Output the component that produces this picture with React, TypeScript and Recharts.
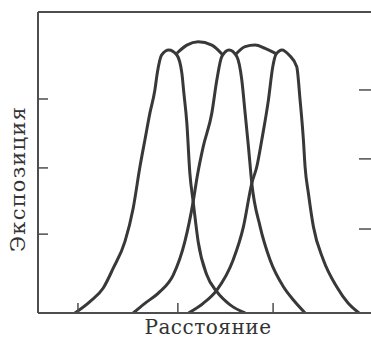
import { LineChart, Line, XAxis, YAxis } from 'recharts';

// distance (0..100) vs exposure (0..100)
const curveA = [
  { x: 11.1, y: 0 }, { x: 15.6, y: 3.8 }, { x: 19.6, y: 8.3 }, { x: 22.6, y: 14.9 },
  { x: 26.1, y: 23.7 }, { x: 28.6, y: 34.9 }, { x: 30.6, y: 48.5 }, { x: 32.1, y: 57.5 },
  { x: 33.6, y: 66.4 }, { x: 35.1, y: 74.1 }, { x: 35.8, y: 79.6 }, { x: 37.1, y: 85.7 },
  { x: 39.3, y: 87.4 }, { x: 41.7, y: 85.7 }, { x: 43.2, y: 79.7 }, { x: 43.8, y: 73.1 },
  { x: 44.7, y: 63.1 }, { x: 45.6, y: 46.5 }, { x: 46.6, y: 37.0 }, { x: 48.1, y: 23.7 },
  { x: 50.7, y: 12.6 }, { x: 53.7, y: 7.1 }, { x: 57.7, y: 2.7 }, { x: 62.2, y: 0 },
];

const curveB = [
  { x: 28.6, y: 0 }, { x: 32.1, y: 3.2 }, { x: 36.6, y: 7.1 }, { x: 40.6, y: 12.6 },
  { x: 44.1, y: 23.7 }, { x: 46.6, y: 37.0 }, { x: 47.8, y: 45.3 }, { x: 49.6, y: 55.2 },
  { x: 52.2, y: 66.4 }, { x: 53.7, y: 77.4 }, { x: 55.2, y: 85.2 }, { x: 57.4, y: 87.4 },
  { x: 59.7, y: 85.2 }, { x: 61.2, y: 77.4 }, { x: 62.2, y: 66.4 }, { x: 63.2, y: 55.2 },
  { x: 64.2, y: 43.1 }, { x: 66.7, y: 28.7 }, { x: 69.7, y: 17.6 }, { x: 73.7, y: 8.7 },
  { x: 76.7, y: 4.3 }, { x: 80.2, y: 0 },
];

const curveC = [
  { x: 45.2, y: 0 }, { x: 49.6, y: 3.2 }, { x: 53.7, y: 7.6 }, { x: 58.6, y: 17.6 },
  { x: 61.7, y: 28.7 }, { x: 64.2, y: 43.1 }, { x: 65.7, y: 48.6 }, { x: 67.2, y: 57.5 },
  { x: 69.2, y: 70.8 }, { x: 70.5, y: 81.8 }, { x: 71.5, y: 86.0 }, { x: 73.3, y: 87.4 },
  { x: 75.4, y: 85.7 }, { x: 77.7, y: 81.8 }, { x: 78.7, y: 70.8 }, { x: 79.7, y: 57.5 },
  { x: 80.2, y: 48.6 }, { x: 81.2, y: 39.8 }, { x: 82.7, y: 28.7 }, { x: 85.7, y: 17.6 },
  { x: 89.7, y: 8.7 }, { x: 93.1, y: 3.3 }, { x: 96.4, y: 0 },
];

// envelope arcs joining neighbouring peaks
const arc1 = [
  { x: 41.7, y: 86.3 }, { x: 44.7, y: 89.0 }, { x: 48.1, y: 90.1 }, { x: 52.2, y: 89.0 }, { x: 55.5, y: 85.7 },
];
const arc2 = [
  { x: 59.2, y: 85.7 }, { x: 62.2, y: 88.5 }, { x: 65.2, y: 89.0 }, { x: 68.2, y: 87.9 }, { x: 71.7, y: 86.0 },
];

const xTicks = [12.0, 42.0, 70.6];
const leftTicks = [26.2, 48.2, 71.1];
const rightTicks = [27.9, 51.2, 74.1];

const xLabel = 'Расстояние';
const yLabel = 'Экспозиция';

// the last series is plotted against the right axis (same 0..100 domain)
const series = [curveA, curveB, curveC, arc1, arc2];

const axisStroke = { stroke: '#4d4d4d', strokeWidth: 2 };
const tickStroke = { stroke: '#4d4d4d', strokeWidth: 1.5 };
const font = '"DejaVu Serif", "Liberation Serif", serif';
const noText = () => '';

export default function App() {
  return (
    <div style={{ position: 'absolute', left: 0, top: 0, width: 371, height: 339, background: '#fff', overflow: 'hidden' }}>
      <LineChart width={371} height={339} margin={{ top: 12, right: 0, bottom: 26, left: 38 }}>
        <XAxis
          type="number"
          dataKey="x"
          domain={[0, 100]}
          ticks={xTicks}
          interval={0}
          mirror
          tickFormatter={noText}
          tickSize={10}
          axisLine={axisStroke}
          tickLine={tickStroke}
          allowDataOverflow
        />
        <XAxis
          xAxisId="top"
          orientation="top"
          type="number"
          dataKey="x"
          domain={[0, 100]}
          mirror
          tick={false}
          tickLine={false}
          axisLine={axisStroke}
        />
        <YAxis
          type="number"
          domain={[0, 100]}
          ticks={leftTicks}
          interval={0}
          mirror
          tickFormatter={noText}
          tickSize={10}
          axisLine={axisStroke}
          tickLine={tickStroke}
          allowDataOverflow
        />
        <YAxis
          yAxisId="right"
          orientation="right"
          type="number"
          domain={[0, 100]}
          ticks={rightTicks}
          interval={0}
          mirror
          tickFormatter={noText}
          tickSize={12}
          axisLine={false}
          tickLine={tickStroke}
          allowDataOverflow
        />
        {series.map((d, i) => (
          <Line
            key={i}
            data={d}
            dataKey="y"
            yAxisId={i === series.length - 1 ? 'right' : 0}
            type="monotone"
            stroke="#383838"
            strokeWidth={3}
            dot={false}
            activeDot={false}
            isAnimationActive={false}
          />
        ))}
      </LineChart>
      <div
        style={{
          position: 'absolute', left: 38, width: 340, top: 319, textAlign: 'center',
          fontFamily: font, fontSize: 20, lineHeight: '16px', letterSpacing: 0.5, color: '#333', whiteSpace: 'nowrap',
        }}
      >
        {xLabel}
      </div>
      <div
        style={{
          position: 'absolute', left: 17.7, top: 179, transform: 'translate(-50%, -50%) rotate(-90deg)',
          fontFamily: font, fontSize: 21, lineHeight: '21px', letterSpacing: 1.2, color: '#333', whiteSpace: 'nowrap',
        }}
      >
        {yLabel}
      </div>
    </div>
  );
}
